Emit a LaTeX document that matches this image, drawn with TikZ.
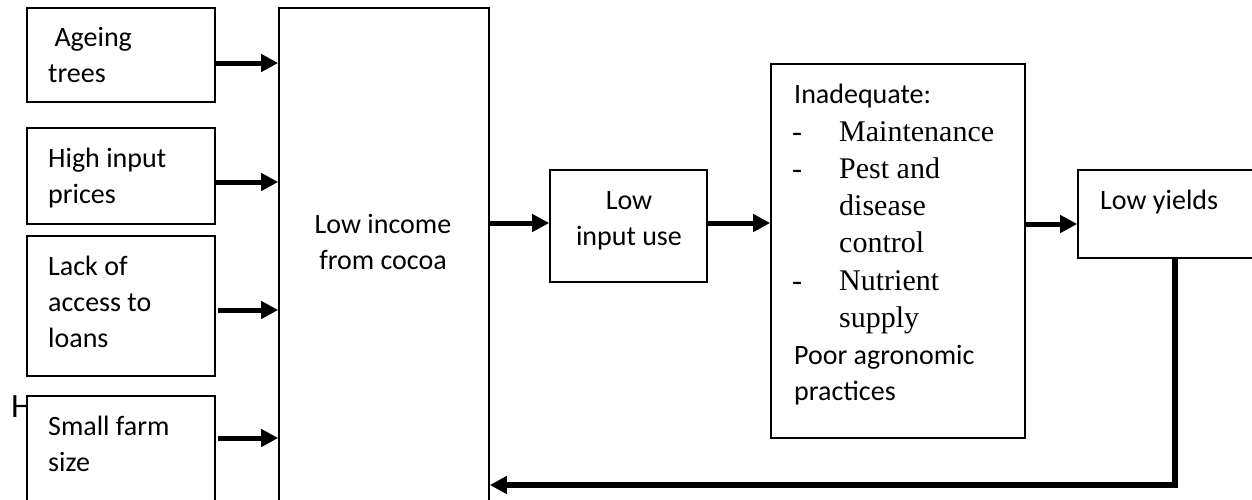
\documentclass[tikz,border=0pt]{standalone}
\usepackage{fontspec}
\setmainfont{Carlito}
\newfontfamily\tnr{Liberation Serif}
\usetikzlibrary{arrows.meta}
\tikzset{
  box/.style={draw=black, line width=1.6pt, fill=white, inner sep=0pt},
  arr/.style={line width=5pt, -{Triangle[length=17pt,width=17pt]}},
  fb/.style={line width=5.5pt, -{Triangle[length=17pt,width=17pt]}},
  lbl/.style={inner sep=0pt, anchor=base west, align=left, font=\fontsize{28}{36}\selectfont},
  clbl/.style={inner sep=0pt, anchor=base, align=center, font=\fontsize{28}{36}\selectfont},
  tlbl/.style={inner sep=0pt, anchor=base west, align=left, font=\tnr\fontsize{30}{37}\selectfont}
}
\begin{document}
\begin{tikzpicture}[x=1pt,y=-1pt]
\useasboundingbox (0,0) rectangle (1252,499);
\clip (0,0) rectangle (1252,499);
\fill[white] (0,0) rectangle (1252,499);
% stray letter partly hidden behind the box
\node[inner sep=0pt, anchor=base west, font=\fontsize{34}{40}\selectfont] (hh) at (11,417) {H};
% boxes
\node[box, minimum width=188pt, minimum height=94pt] (ageing) at (121,55) {};
\node[box, minimum width=188pt, minimum height=96pt] (high) at (121,176) {};
\node[box, minimum width=188pt, minimum height=140pt] (lack) at (121,306) {};
\node[box, minimum width=188pt, minimum height=130pt] (small) at (121,461) {};
\node[box, minimum width=210pt, minimum height=520pt] (income) at (384,268) {};
\node[box, minimum width=157pt, minimum height=112pt] (lowinput) at (628.5,226) {};
\node[box, minimum width=254pt, minimum height=374pt] (inad) at (898,251) {};
\node[box, minimum width=210pt, minimum height=88pt] (yields) at (1183,214) {};
% texts (base anchor = baseline of the last line)
\node[lbl] (tageing) at (48,82) {\hspace*{6.3pt}Ageing\\trees};
\node[lbl] (thigh) at (48,203) {High input\\prices};
\node[lbl] (tlack) at (48,347) {Lack of\\access to\\loans};
\node[lbl] (tsmall) at (48,471) {Small farm\\size};
\node[clbl] (tincome) at (383,269) {Low income\\from cocoa};
\node[clbl] (tlowinput) at (629,245) {Low\\input use};
\node[lbl] (tyields) at (1100,209) {Low yields};
\node[lbl] (tinad) at (794,103) {Inadequate:};
\node[tlbl] (d1) at (792,141) {-};
\node[tlbl] (d2) at (792,178) {-};
\node[tlbl] (d3) at (792,290) {-};
\node[tlbl] (i1) at (839,141) {Maintenance};
\node[tlbl] (i2) at (839,252) {Pest and\\disease\\control};
\node[tlbl] (i3) at (839,327) {Nutrient\\supply};
\node[lbl] (tpoor) at (794,400) {Poor agronomic\\practices};
% connectors
\draw[arr] (ageing.east |- 0,63) -- (income.west |- 0,63);
\draw[arr] (high.east |- 0,182) -- (income.west |- 0,182);
\draw[arr] ([xshift=2pt]lack.east |- 0,310) -- (income.west |- 0,310);
\draw[arr] ([xshift=2pt]small.east |- 0,438) -- (income.west |- 0,438);
\draw[arr] (income.east |- 0,223) -- (lowinput.west |- 0,223);
\draw[arr] (lowinput.east |- 0,223) -- (inad.west |- 0,223);
\draw[arr] (inad.east |- 0,224) -- (yields.west |- 0,224);
\coordinate (fbc) at (1175,485);
\draw[fb] (yields.south -| fbc) -- (fbc) -- (income.east |- fbc);
\end{tikzpicture}
\end{document}
